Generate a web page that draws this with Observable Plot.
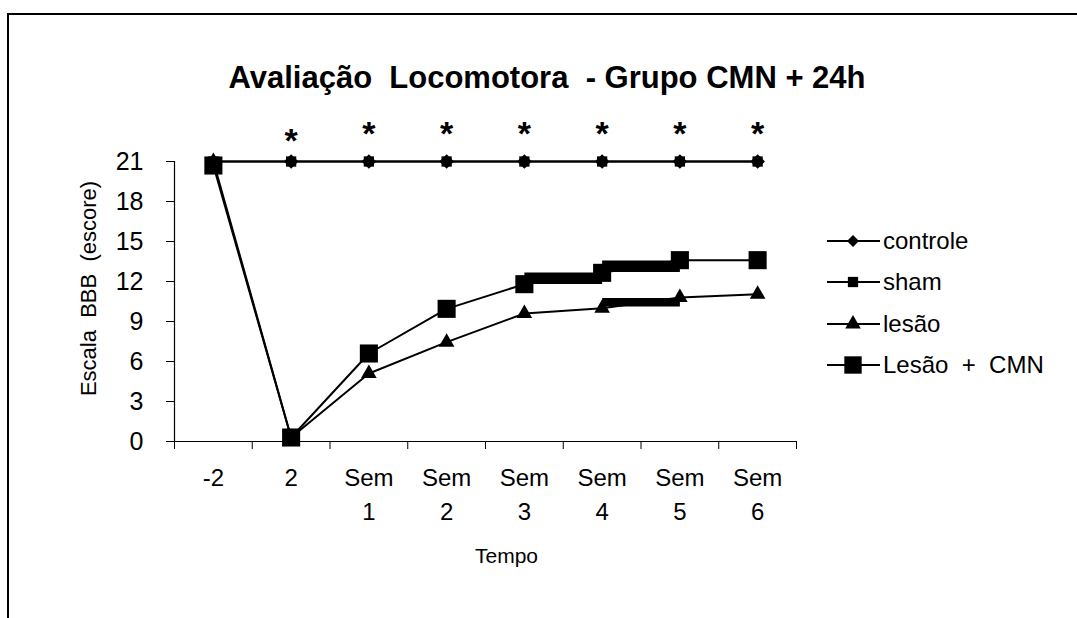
<!DOCTYPE html>
<html>
<head>
<meta charset="utf-8">
<script src="https://cdn.jsdelivr.net/npm/d3@7"></script>
<script src="https://cdn.jsdelivr.net/npm/@observablehq/plot@0.6"></script>
<style>
  html, body { margin: 0; padding: 0; background: #fff; }
  #page { position: relative; width: 1077px; height: 618px; overflow: hidden; font-family: "Liberation Sans", Arial, sans-serif; color: #000; }
  #frame { position: absolute; left: 7px; top: 13px; width: 1080px; height: 620px; border-top: 2px solid #000; border-left: 2px solid #000; }
  #title { position: absolute; left: 0; width: 1094px; top: 63px; text-align: center; font-size: 31px; line-height: 30px; font-weight: bold; white-space: pre; }
  #chart { position: absolute; left: 0; top: 0; }
  #legend { position: absolute; left: 826px; top: 220px; font-size: 24px; }
  .item { display: flex; align-items: center; height: 41.5px; white-space: pre; }
  .item svg { margin-right: 1px; }
</style>
</head>
<body>
<div id="page">
  <div id="frame"></div>
  <div id="chart"></div>
  <div id="title">Avaliação  Locomotora  - Grupo CMN + 24h</div>
  <div id="legend"></div>
</div>
<script>
// ---- data ----
const categorias = ["-2", "2", "Sem\n1", "Sem\n2", "Sem\n3", "Sem\n4", "Sem\n5", "Sem\n6"];
const controle = [21, 21, 21, 21, 21, 21, 21, 21];
const sham     = [21, 21, 21, 21, 21, 21, 21, 21];
const lesao    = [21, 0.3, 5.1, 7.45, 9.6, 10.0, 10.8, 11.05];
const lesaoCMN = [20.7, 0.3, 6.6, 9.95, 11.8, 12.65, 13.6, 13.6];
const asterisco = [0, 1, 1, 1, 1, 1, 1, 1]; // significance marks
// thick (overlapping) segments visible in the original
const faixaSerie = ["Lesão + CMN", "Lesão + CMN", "lesão"];
const faixaDe    = [4, 5, 5];
const faixaAte   = [5, 6, 6];
const faixaValor = [12.25, 13.15, 10.45];
const yTicks = [0, 3, 6, 9, 12, 15, 18, 21];
const nomes = ["controle", "sham", "lesão", "Lesão + CMN"];
const simbolos = ["diamond2", "square", "triangle", "square"];
const raios = [6.6, 5.8, 5.8, 10.2];

const series = [controle, sham, lesao, lesaoCMN];
const rows = [];
series.forEach((vals, s) => vals.forEach((v, i) => rows.push({serie: nomes[s], s, i, x: i + 0.5, y: v})));
const faixas = faixaSerie.map((n, k) => ({serie: n, x1: faixaDe[k] + 0.5, x2: faixaAte[k] + 0.5, y: faixaValor[k], w: n === "lesão" ? 8.5 : 11.5}));
const stars = asterisco.map((a, i) => ({a, i, x: i + 0.5})).filter(d => d.a);
const n = categorias.length;

const chart = Plot.plot({
  width: 1077,
  height: 618,
  marginLeft: 174,
  marginRight: 281,
  marginTop: 161,
  marginBottom: 177,
  style: {fontFamily: "Liberation Sans, Arial, sans-serif", color: "#000", background: "transparent"},
  x: {domain: [0, n]},
  y: {domain: [0, 21]},
  marks: [
    Plot.axisY({ticks: yTicks, tickSize: 8, tickPadding: 23, fontSize: 25, label: null, stroke: "#000", strokeWidth: 1}),
    Plot.axisX({ticks: d3.range(0, n + 1), tickFormat: () => "", tickSize: 8, label: null, strokeWidth: 1}),
    Plot.axisX({ticks: d3.range(0, n).map(i => i + 0.5), tickFormat: v => categorias[Math.round(v - 0.5)], tickSize: 0, tickPadding: 20, fontSize: 24, lineHeight: 1.42, label: null}),
    Plot.ruleX([0], {stroke: "#000", strokeWidth: 1.2}),
    Plot.ruleY([0], {stroke: "#000", strokeWidth: 1.2}),
    Plot.text(["Escala  BBB  (escore)"], {frameAnchor: "left", textAnchor: "middle", rotate: -90, dx: -86, dy: -13, fontSize: 22}),
    Plot.text(["Tempo"], {frameAnchor: "bottom", dy: 121, dx: 21, fontSize: 21}),
    Plot.link(faixas, {x1: "x1", x2: "x2", y1: "y", y2: "y", stroke: "#000", strokeWidth: d => d.w, strokeLinecap: "butt"}),
    Plot.line(rows, {x: "x", y: "y", z: "serie", stroke: "#000", strokeWidth: 2}),
    ...nomes.map((nm, s) => Plot.dot(rows.filter(d => d.s === s), {x: "x", y: "y", symbol: () => simbolos[s], r: raios[s], fill: "#000", stroke: "none"})),
    Plot.text(stars.filter(d => d.i === 1), {x: "x", y: () => 21, dy: -20, text: () => "*", fontSize: 34, fontWeight: "bold"}),
    Plot.text(stars.filter(d => d.i !== 1), {x: "x", y: () => 21, dy: -27, text: () => "*", fontSize: 34, fontWeight: "bold"})
  ]
});
document.getElementById("chart").appendChild(chart);

// legend
const leg = d3.select("#legend");
nomes.forEach((nm, s) => {
  const item = leg.append("div").attr("class", "item");
  const svg = item.append("svg").attr("width", 56).attr("height", 24);
  svg.append("line").attr("x1", 1).attr("x2", 54).attr("y1", 12).attr("y2", 12).attr("stroke", "#000").attr("stroke-width", 2);
  const typ = {diamond2: d3.symbolDiamond2, square: d3.symbolSquare, triangle: d3.symbolTriangle}[simbolos[s]];
  const r = s === 3 ? 9.8 : s === 0 ? 5.4 : raios[s];
  svg.append("path").attr("transform", "translate(27,12)").attr("d", d3.symbol(typ, Math.PI * r * r)()).attr("fill", "#000");
  item.append("span").text(nm === "Lesão + CMN" ? "Lesão  +  CMN" : nm);
});
</script>
</body>
</html>
